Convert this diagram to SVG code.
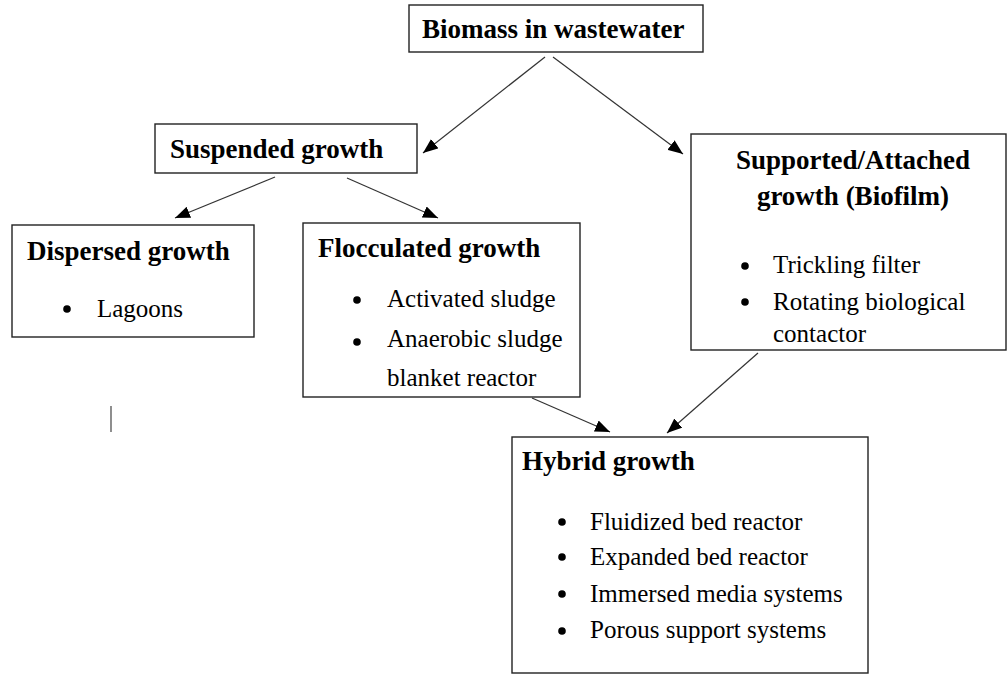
<svg xmlns="http://www.w3.org/2000/svg" width="1008" height="675" viewBox="0 0 1008 675">
<style>
.box{fill:#fff;stroke:#222;stroke-width:1.4}
.t{font-family:"Liberation Serif","Times New Roman",serif;font-weight:bold;font-size:27px;fill:#000}
.r{font-family:"Liberation Serif","Times New Roman",serif;font-size:25px;fill:#000}
.c{stroke:#333;stroke-width:1.2;fill:none;marker-end:url(#ah)}
</style>
<defs>
<marker id="ah" markerUnits="userSpaceOnUse" markerWidth="16" markerHeight="12" refX="15" refY="6" orient="auto">
<path d="M0,0 L15,6 L0,12 z" fill="#000"/>
</marker>
</defs>
<rect width="1008" height="675" fill="#fff"/>
<g id="connectors">
<line class="c" x1="545" y1="57" x2="423" y2="153"/>
<line class="c" x1="553" y1="57" x2="683" y2="154"/>
<line class="c" x1="275" y1="177" x2="175" y2="218"/>
<line class="c" x1="347" y1="178" x2="438" y2="218"/>
<line class="c" x1="532" y1="398" x2="610" y2="432"/>
<line class="c" x1="758" y1="353" x2="667" y2="433"/>
</g>
<g id="biomass">
<rect class="box" x="409" y="5" width="294" height="47"/>
<text class="t" x="422" y="38">Biomass in wastewater</text>
</g>
<g id="suspended">
<rect class="box" x="155" y="124" width="262" height="49"/>
<text class="t" x="170" y="158">Suspended growth</text>
</g>
<g id="dispersed">
<rect class="box" x="12" y="225" width="242" height="112"/>
<text class="t" x="27" y="260">Dispersed growth</text>
<circle cx="67" cy="309" r="3.8"/>
<text class="r" x="97" y="317">Lagoons</text>
</g>
<g id="flocculated">
<rect class="box" x="303" y="223" width="277" height="174"/>
<text class="t" x="318" y="257">Flocculated growth</text>
<circle cx="357" cy="300" r="3.8"/>
<text class="r" x="387" y="307">Activated sludge</text>
<circle cx="357" cy="342" r="3.8"/>
<text class="r" x="387" y="347">Anaerobic sludge</text>
<text class="r" x="387" y="386">blanket reactor</text>
</g>
<g id="supported">
<rect class="box" x="691" y="134" width="315" height="216"/>
<text class="t" x="853" y="169" text-anchor="middle">Supported/Attached</text>
<text class="t" x="853" y="205" text-anchor="middle">growth (Biofilm)</text>
<circle cx="745" cy="266" r="3.8"/>
<text class="r" x="773" y="273">Trickling filter</text>
<circle cx="745" cy="302" r="3.8"/>
<text class="r" x="773" y="310">Rotating biological</text>
<text class="r" x="773" y="342">contactor</text>
</g>
<g id="hybrid">
<rect class="box" x="512" y="437" width="356" height="236"/>
<text class="t" x="522" y="470">Hybrid growth</text>
<circle cx="562" cy="522" r="3.8"/>
<text class="r" x="590" y="530">Fluidized bed reactor</text>
<circle cx="562" cy="557" r="3.8"/>
<text class="r" x="590" y="565">Expanded bed reactor</text>
<circle cx="562" cy="594" r="3.8"/>
<text class="r" x="590" y="602">Immersed media systems</text>
<circle cx="562" cy="631" r="3.8"/>
<text class="r" x="590" y="638">Porous support systems</text>
</g>
<line x1="111" y1="406" x2="111" y2="432" stroke="#444" stroke-width="1.2"/>
</svg>
